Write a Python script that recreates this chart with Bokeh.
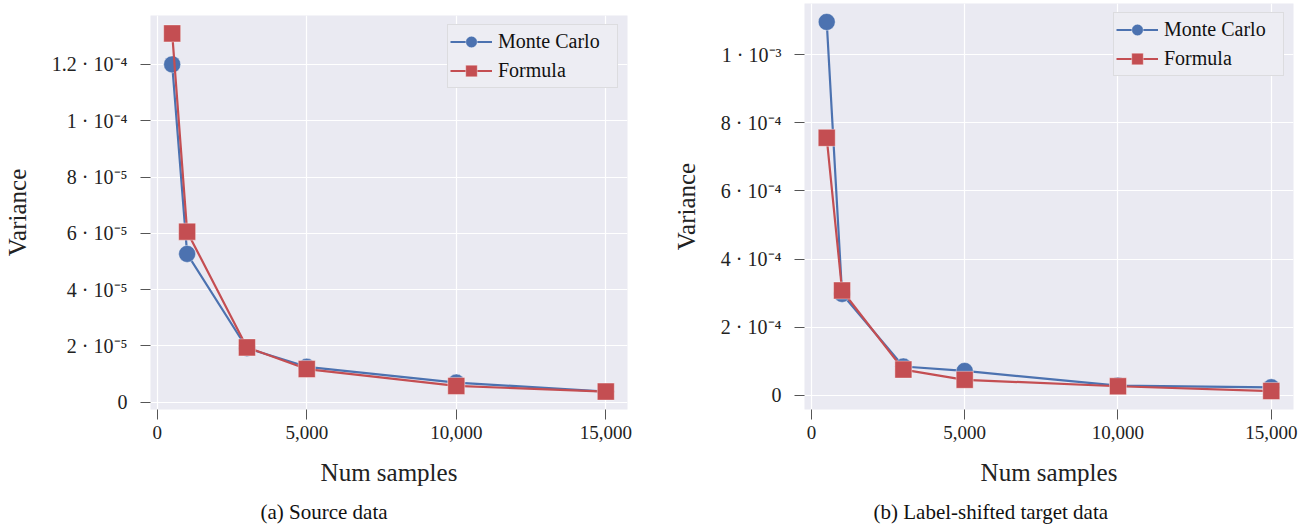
from bokeh.plotting import figure
from bokeh.layouts import row
from bokeh.models import (FixedTicker, CustomJSTickFormatter, NumeralTickFormatter,
                          Range1d, Title, Legend, LinearAxis)
from bokeh.embed import file_html
from bokeh.resources import INLINE

# ---------------- data ----------------
num_samples = [500, 1000, 3000, 5000, 10000, 15000]

src_monte_carlo = [1.20e-4, 5.27e-5, 1.92e-5, 1.26e-5, 0.70e-5, 0.38e-5]
src_formula = [1.31e-4, 6.06e-5, 1.95e-5, 1.18e-5, 0.58e-5, 0.38e-5]

tgt_monte_carlo = [10.96e-4, 2.98e-4, 0.85e-4, 0.72e-4, 0.29e-4, 0.24e-4]
tgt_formula = [7.56e-4, 3.08e-4, 0.76e-4, 0.46e-4, 0.27e-4, 0.13e-4]

x_ticks = [0, 5000, 10000, 15000]
src_y_ticks = [0, 2e-5, 4e-5, 6e-5, 8e-5, 1e-4, 1.2e-4]
src_y_labels = ["0", "2 · 10⁻⁵", "4 · 10⁻⁵", "6 · 10⁻⁵", "8 · 10⁻⁵", "1 · 10⁻⁴", "1.2 · 10⁻⁴"]
tgt_y_ticks = [0, 2e-4, 4e-4, 6e-4, 8e-4, 1e-3]
tgt_y_labels = ["0", "2 · 10⁻⁴", "4 · 10⁻⁴", "6 · 10⁻⁴", "8 · 10⁻⁴", "1 · 10⁻³"]

captions = ["(a) Source data", "(b) Label-shifted target data"]
series_names = ["Monte Carlo", "Formula"]

BLUE = "#4C72B0"
RED = "#C44E52"
BG = "#EAEAF2"
FONT = "Liberation Serif"

JS = """
let best = 0;
for (let i = 0; i < vals.length; i++) {
  if (Math.abs(vals[i] - tick) < Math.abs(vals[best] - tick)) best = i;
}
return labs[best];
"""


def pad_range(vals):
    lo, hi = min(vals), max(vals)
    m = (hi - lo) * 0.05
    return lo - m, hi + m


def make_panel(mc, fo, yticks, ylabels, caption, width, height, borders, top_margin,
               cap_offset):
    bl, br, bt, bb = borders
    x0, x1 = pad_range(num_samples)
    y0, y1 = pad_range(mc + fo)
    p = figure(width=width, height=height, output_backend="svg", toolbar_location=None,
               title=None,
               x_range=Range1d(x0, x1), y_range=Range1d(y0, y1),
               min_border_left=bl, min_border_right=br, min_border_top=bt,
               min_border_bottom=bb)
    p.margin = (top_margin, 0, 0, 0)
    p.background_fill_color = BG
    p.border_fill_color = "white"
    p.outline_line_color = None

    for ax in (p.xaxis[0], p.yaxis[0]):
        ax.axis_line_color = None
        ax.major_tick_out = 10
        ax.major_tick_in = 0
        ax.minor_tick_out = 0
        ax.minor_tick_in = 0
        ax.major_tick_line_color = "#555555"
        ax.major_tick_line_width = 1
        ax.major_label_text_font = FONT
        ax.major_label_text_color = "#222222"
        ax.axis_label_text_font = FONT
        ax.axis_label_text_font_size = "25px"
        ax.axis_label_text_font_style = "normal"
        ax.axis_label_text_color = "#222222"

    p.xaxis.ticker = FixedTicker(ticks=x_ticks)
    p.xaxis.formatter = NumeralTickFormatter(format="0,0")
    p.xaxis.major_label_text_font_size = "19px"
    p.xaxis.major_label_standoff = 6
    p.xaxis.axis_label = "Num samples"
    p.xaxis.axis_label_standoff = 17

    p.yaxis.ticker = FixedTicker(ticks=yticks)
    p.yaxis.formatter = CustomJSTickFormatter(args=dict(vals=yticks, labs=ylabels), code=JS)
    p.yaxis.major_label_text_font_size = "20px"
    p.yaxis.major_label_standoff = 13
    p.yaxis.axis_label = "Variance"
    p.yaxis.axis_label_standoff = 18

    p.grid.grid_line_color = "white"
    p.grid.grid_line_width = 1.2
    p.xgrid.ticker = FixedTicker(ticks=x_ticks)
    p.ygrid.ticker = FixedTicker(ticks=yticks)

    l1 = p.line(num_samples, mc, line_color=BLUE, line_width=2.2)
    s1 = p.scatter(num_samples, mc, marker="circle", size=17, fill_color=BLUE,
                   line_color="white", line_alpha=0.4, line_width=1)
    l2 = p.line(num_samples, fo, line_color=RED, line_width=2.2)
    s2 = p.scatter(num_samples, fo, marker="square", size=17, fill_color=RED,
                   line_color="white", line_alpha=0.4, line_width=1)

    legend = Legend(items=[(series_names[0], [l1, s1]), (series_names[1], [l2, s2])],
                    location="top_right")
    legend.margin = 9
    legend.padding = 2
    legend.spacing = 0
    legend.glyph_width = 42
    legend.glyph_height = 29
    legend.label_width = 117
    legend.label_text_font = FONT
    legend.label_text_font_size = "20px"
    legend.label_text_color = "#111111"
    legend.label_standoff = 6
    legend.background_fill_color = "#EDEDF3"
    legend.background_fill_alpha = 1
    legend.border_line_color = "#CCCCCC"
    legend.border_line_width = 1
    p.add_layout(legend, "center")

    # spacer axis (white ticks on white, empty labels) between the x axis and the caption
    spacer = LinearAxis(ticker=FixedTicker(ticks=x_ticks),
                        formatter=CustomJSTickFormatter(code="return ''"),
                        major_tick_out=9, major_tick_in=0,
                        minor_tick_out=0, minor_tick_in=0, major_label_standoff=0,
                        major_label_text_font_size="1px",
                        axis_line_color=None, major_tick_line_color="white",
                        minor_tick_line_color=None)
    p.add_layout(spacer, "below")

    cap = Title(text=caption, align="left", offset=cap_offset, text_font=FONT,
                text_font_size="21px", text_font_style="normal", text_color="#111111",
                standoff=0)
    p.add_layout(cap, "below")
    return p


p1 = make_panel(src_monte_carlo, src_formula, src_y_ticks, src_y_labels, captions[0],
                652, 512, (150, 25, 3, 113), 12, 110)
p2 = make_panel(tgt_monte_carlo, tgt_formula, tgt_y_ticks, tgt_y_labels, captions[1],
                652, 524, (152, 11, 3, 115), 0, 69)

layout = row(p1, p2)
open("out.html", "w").write(file_html(layout, INLINE))
